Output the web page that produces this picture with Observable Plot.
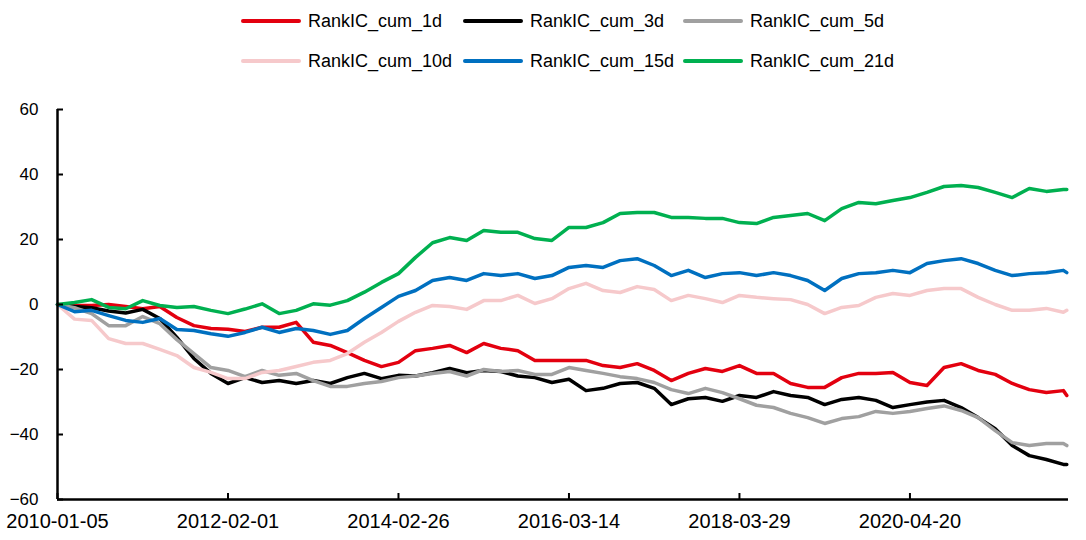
<!DOCTYPE html>
<html><head><meta charset="utf-8">
<script src="https://cdn.jsdelivr.net/npm/d3@7"></script>
<script src="https://cdn.jsdelivr.net/npm/@observablehq/plot@0.6"></script>
<style>
body{margin:0;background:#fff;width:1086px;height:540px;overflow:hidden;font-family:"Liberation Sans",Arial,sans-serif}
#legend{position:relative;height:80px}
.item{position:absolute;display:flex;align-items:center;font-size:18px;color:#000;height:20px;line-height:20px}
.sw{width:60px;height:4px;margin-right:7px;border-radius:2px}
#chart svg{display:block}
</style></head><body>
<div id="legend"></div><div id="chart"></div>
<script>
// trading-day index of each sample
const dayIndex = [0,50,100,150,200,250,300,350,400,450,500,550,600,650,700,750,800,850,900,950,1000,1050,1100,1150,1200,1250,1300,1350,1400,1450,1500,1550,1600,1650,1700,1750,1800,1850,1900,1950,2000,2050,2100,2150,2200,2250,2300,2350,2400,2450,2500,2550,2600,2650,2700,2750,2800,2850,2900,2950,2960];
const xTickIndex = [0,500,1000,1500,2000,2500];
const xTickLabels = ["2010-01-05","2012-02-01","2014-02-26","2016-03-14","2018-03-29","2020-04-20"];
const yTicks = [-60,-40,-20,0,20,40,60];
const seriesNames = ["RankIC_cum_1d","RankIC_cum_3d","RankIC_cum_5d","RankIC_cum_10d","RankIC_cum_15d","RankIC_cum_21d"];
const seriesColors = ["#E3000F","#000000","#A0A0A0","#F6C9CB","#0070C0","#00B050"];

const cum1d = [0,-0.3,-0.3,0,-0.6,-1.3,-0.6,-4,-6.5,-7.4,-7.6,-8.3,-7,-7,-5.5,-11.6,-12.6,-14.8,-17.2,-19.1,-17.8,-14.2,-13.5,-12.6,-14.8,-12,-13.5,-14.2,-17.2,-17.2,-17.2,-17.2,-18.8,-19.4,-18.2,-20.3,-23.4,-21.2,-19.7,-20.6,-18.8,-21.2,-21.2,-24.3,-25.5,-25.5,-22.5,-21.2,-21.2,-20.9,-24,-24.9,-19.4,-18.2,-20.3,-21.5,-24.3,-26.2,-27.1,-26.5,-28];
const cum3d = [0,-0.6,-1,-2,-2.6,-1.5,-4.3,-10.1,-16.6,-21.2,-24.3,-22.5,-24,-23.4,-24.3,-23.4,-24.3,-22.5,-21.2,-22.8,-21.8,-22,-21,-19.7,-21,-20.3,-20.6,-22,-22.5,-24,-23,-26.5,-25.8,-24.3,-24,-25.8,-30.8,-29,-28.6,-29.8,-28,-28.6,-26.8,-28,-28.6,-30.8,-29.2,-28.6,-29.5,-31.7,-30.8,-30,-29.5,-31.7,-34.8,-38.2,-43.4,-46.5,-47.7,-49.2,-49.2];
const cum5d = [0,-1,-2.8,-6.5,-6.5,-3.7,-5.9,-10.8,-15.1,-19.4,-20.3,-22.2,-20.3,-21.8,-21.2,-23.4,-25.2,-25.2,-24.3,-23.7,-22.5,-22,-21.2,-20.6,-22,-20,-20.6,-20.3,-21.5,-21.5,-19.4,-20.3,-21.2,-22.2,-22.8,-24,-26.2,-27.4,-25.8,-27.1,-29,-31,-31.7,-33.5,-34.8,-36.6,-35.1,-34.5,-32.9,-33.5,-32.9,-32,-31.2,-32.6,-34.8,-38.8,-42.5,-43.4,-42.8,-42.8,-43.4];
const cum10d = [0,-4.5,-4.9,-10.5,-12,-12,-13.8,-15.7,-19.4,-20.9,-22.8,-22.8,-20.9,-20.3,-19.1,-17.8,-17.2,-15.1,-11.6,-8.6,-5.2,-2.4,-0.3,-0.6,-1.5,1.2,1.2,2.8,0.3,1.8,4.9,6.5,4.3,3.7,5.5,4.6,1.2,2.8,1.8,0.6,2.8,2.2,1.8,1.5,0,-2.8,-0.9,-0.3,2.2,3.4,2.8,4.3,4.9,4.9,2.2,0,-1.8,-1.8,-1.2,-2.4,-1.8];
const cum15d = [0,-2.2,-1.8,-3.4,-4.9,-5.5,-4.3,-7.7,-8,-9,-9.8,-8.6,-7,-8.6,-7.4,-8,-9.2,-8,-4.3,-0.9,2.5,4.3,7.4,8.3,7.4,9.5,8.9,9.5,8,8.9,11.4,12,11.4,13.5,14.1,12,8.9,10.5,8.3,9.5,9.8,8.9,9.8,8.9,7.4,4.3,8,9.5,9.8,10.5,9.8,12.6,13.5,14.1,12.6,10.5,8.9,9.5,9.8,10.5,9.8];
const cum21d = [0,0.6,1.5,-0.9,-1.3,1.2,-0.3,-0.9,-0.6,-1.8,-2.8,-1.4,0.2,-2.8,-1.8,0.2,-0.2,1.2,3.8,6.8,9.5,14.5,19,20.6,19.7,22.8,22.2,22.2,20.3,19.7,23.7,23.7,25.2,28,28.3,28.3,26.8,26.8,26.5,26.5,25.2,24.9,26.8,27.4,28,25.8,29.5,31.4,31,32,32.9,34.5,36.3,36.6,36,34.5,32.9,35.7,34.8,35.4,35.4];

const seriesValues = [cum1d,cum3d,cum5d,cum10d,cum15d,cum21d];

// legend
const legend = document.getElementById("legend");
const legendX = [241,463,683];
const legendY = [11,51];
seriesNames.forEach((name,k)=>{
  const it = document.createElement("div");
  it.className = "item";
  it.style.left = legendX[k%3]+"px";
  it.style.top = legendY[Math.floor(k/3)]+"px";
  const sw = document.createElement("span");
  sw.className = "sw"; sw.style.background = seriesColors[k];
  const tx = document.createElement("span"); tx.textContent = name;
  it.appendChild(sw); it.appendChild(tx);
  legend.appendChild(it);
});

const lines = seriesValues.map((vals,k)=>
  Plot.line(dayIndex.map((d,j)=>({i:d, v:vals[j]})), {x:"i", y:"v", stroke: seriesColors[k], strokeWidth:3.5, strokeLinejoin:"round"})
);

const labelOf = new Map(xTickIndex.map((d,j)=>[d, xTickLabels[j]]));

const chart = Plot.plot({
  width:1086, height:460,
  marginTop:29, marginBottom:41, marginLeft:57, marginRight:18,
  style:{fontFamily:"Liberation Sans, Arial, sans-serif", background:"#fff", color:"#000"},
  x:{domain:[0,2965], label:null},
  y:{domain:[-60,60], label:null},
  marks:[
    ...lines,
    Plot.axisY(yTicks, {tickSize:-6, strokeWidth:2, text:null, label:null}),
    Plot.axisY(yTicks, {tickSize:0, tickPadding:19, fontSize:17, label:null}),
    Plot.axisX(xTickIndex, {tickSize:-6, strokeWidth:2, text:null, label:null}),
    Plot.axisX(xTickIndex, {tickSize:0, tickPadding:14, fontSize:20, tickFormat:d=>labelOf.get(d), label:null}),
    Plot.ruleX([0], {strokeWidth:2.5}),
    Plot.ruleY([-60], {strokeWidth:2.5})
  ]
});
document.getElementById("chart").appendChild(chart);
</script>
</body></html>
